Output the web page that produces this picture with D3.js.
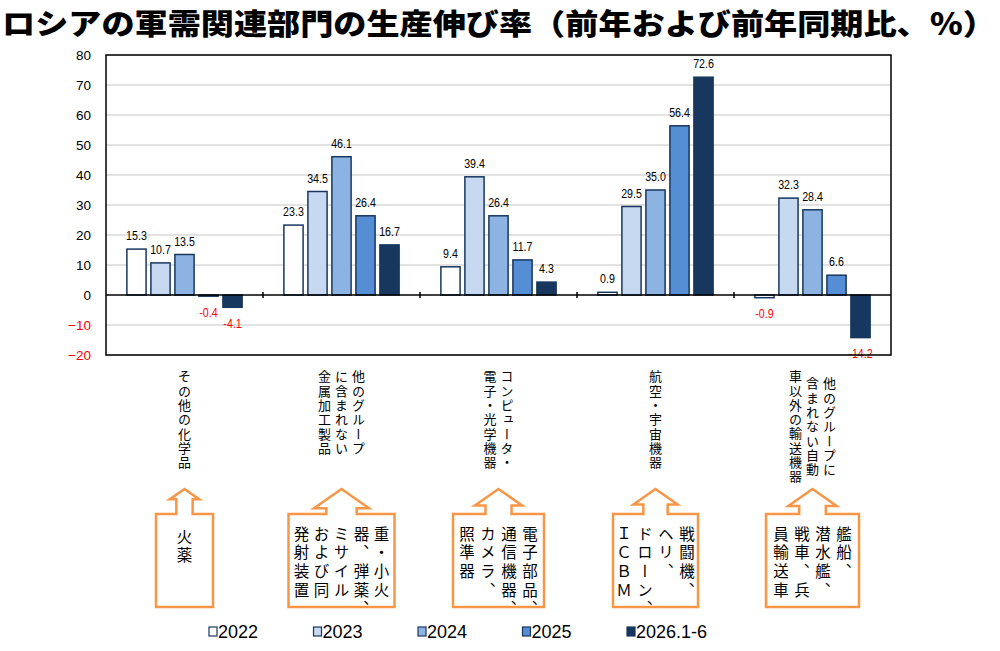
<!DOCTYPE html>
<html>
<head>
<meta charset="utf-8">
<script src="https://cdn.jsdelivr.net/npm/d3@7"></script>
<style>
    body { margin: 0; background: #fff; }
    svg { display: block; }
</style>
</head>
<body>
<div id="chart"></div>
<script>
// Data
const title = "ロシアの軍需関連部門の生産伸び率（前年および前年同期比、％）";
const categories = ["その他の化学品", "他のグループに含まれない金属加工製品", "コンピュータ・電子・光学機器", "航空・宇宙機器", "他のグループに含まれない自動車以外の輸送機器"];
// label columns (vertical text, read right to left)
const categoryLines = [
    ["その他の化学品"],
    ["他のグループ", "に含まれない", "金属加工製品"],
    ["コンピュータ・", "電子・光学機器"],
    ["航空・宇宙機器"],
    ["他のグループに", "含まれない自動", "車以外の輸送機器"]
];
const exampleLines = [
    ["火薬"],
    ["重・小火", "器、弾薬、", "ミサイル", "および同", "発射装置"],
    ["電子部品、", "通信機器、", "カメラ、", "照準器"],
    ["戦闘機、", "ヘリ、", "ドローン、", "ＩＣＢＭ"],
    ["艦船、", "潜水艦、", "戦車、兵", "員輸送車"]
];
const seriesNames = ["2022", "2023", "2024", "2025", "2026.1-6"];
const v2022 = [15.3, 23.3, 9.4, 0.9, -0.9];
const v2023 = [10.7, 34.5, 39.4, 29.5, 32.3];
const v2024 = [13.5, 46.1, 26.4, 35.0, 28.4];
const v2025 = [-0.4, 26.4, 11.7, 56.4, 6.6];
const v2026 = [-4.1, 16.7, 4.3, 72.6, -14.2];
const yTicks = [-20, -10, 0, 10, 20, 30, 40, 50, 60, 70, 80];

const seriesValues = [v2022, v2023, v2024, v2025, v2026];
const colors = ["#ffffff", "#c6d9f0", "#8db3e2", "#558ed5", "#17375e"];
const edge = "#17375e";
const orange = "#f79646";
const boxWidths = [57, 106, 91, 85, 93];

const width = 1000, height = 651;
const plot = { left: 106, right: 891, top: 55, bottom: 355 };
const latin = "'Liberation Sans', Arial, sans-serif";
const jp = "'Noto Sans CJK JP', 'Noto Sans CJK SC', sans-serif";

const svg = d3.select("#chart")
    .append("svg")
    .attr("width", width)
    .attr("height", height)
    .attr("viewBox", [0, 0, width, height]);

// Title
svg.append("text")
    .attr("x", 2)
    .attr("y", 35)
    .attr("textLength", 994)
    .attr("lengthAdjust", "spacingAndGlyphs")
    .style("font-family", jp)
    .style("font-weight", 900)
    .style("font-size", "29px")
    .style("fill", "#000")
    .text(title);

// Scales
const x0 = d3.scaleBand()
    .domain(d3.range(categories.length))
    .range([plot.left, plot.right])
    .paddingInner(0);

const x1 = d3.scaleBand()
    .domain(seriesNames)
    .range([0, x0.bandwidth()])
    .paddingInner(0.2)
    .paddingOuter(0.87);

const y = d3.scaleLinear()
    .domain([-20, 80])
    .range([plot.bottom, plot.top]);

// Gridlines
svg.append("g")
    .selectAll("line")
    .data(yTicks.filter(t => t !== 0))
    .join("line")
    .attr("x1", plot.left)
    .attr("x2", plot.right)
    .attr("y1", d => y(d))
    .attr("y2", d => y(d))
    .attr("stroke", "#d9d9d9")
    .attr("stroke-width", 1.5);

// Y axis labels
const yAxis = svg.append("g")
    .attr("transform", `translate(${plot.left},0)`)
    .call(d3.axisLeft(y).tickValues(yTicks).tickSize(0).tickPadding(15));
yAxis.select(".domain").remove();
yAxis.selectAll("text")
    .style("font-family", latin)
    .style("font-size", "13.5px")
    .style("fill", d => d < 0 ? "#ff0000" : "#000");

// Bars
const rows = [];
categories.forEach((c, i) => {
    seriesNames.forEach((s, j) => {
        rows.push({ cat: i, series: s, idx: j, value: seriesValues[j][i] });
    });
});

svg.append("g")
    .selectAll("rect")
    .data(rows)
    .join("rect")
    .attr("x", d => x0(d.cat) + x1(d.series))
    .attr("width", x1.bandwidth())
    .attr("y", d => y(Math.max(0, d.value)))
    .attr("height", d => Math.abs(y(d.value) - y(0)))
    .attr("fill", d => colors[d.idx])
    .attr("stroke", edge)
    .attr("stroke-width", 1.5);

// Value labels (narrowed, like Arial Narrow)
svg.append("g")
    .selectAll("text")
    .data(rows)
    .join("text")
    .attr("transform", d => {
        const lx = x0(d.cat) + x1(d.series) + x1.bandwidth() / 2;
        const ly = d.value >= 0 ? y(d.value) - 9 : y(d.value) + 20.5;
        return `translate(${lx},${ly}) scale(0.82,1)`;
    })
    .attr("text-anchor", "middle")
    .style("font-family", latin)
    .style("font-size", "13px")
    .style("fill", d => d.value < 0 ? "#ff0000" : "#000")
    .text(d => d.value.toFixed(1));

// Zero line + category ticks
svg.append("line")
    .attr("x1", plot.left).attr("x2", plot.right)
    .attr("y1", y(0)).attr("y2", y(0))
    .attr("stroke", "#000").attr("stroke-width", 1.5);

svg.append("g")
    .selectAll("line")
    .data(d3.range(1, categories.length))
    .join("line")
    .attr("x1", d => x0(d)).attr("x2", d => x0(d))
    .attr("y1", y(0) - 3).attr("y2", y(0) + 3)
    .attr("stroke", "#000").attr("stroke-width", 1.5);

// Plot frame
svg.append("rect")
    .attr("x", plot.left).attr("y", plot.top)
    .attr("width", plot.right - plot.left)
    .attr("height", plot.bottom - plot.top)
    .attr("fill", "none")
    .attr("stroke", "#000")
    .attr("stroke-width", 1.5);

// vertical text, one glyph per element so the pitch is exact
function verticalColumn(g, str, x, top, pitch, size) {
    Array.from(str).forEach((ch, k) => {
        g.append("text")
            .attr("x", x)
            .attr("y", top + k * pitch)
            .style("writing-mode", "vertical-rl")
            .style("font-family", jp)
            .style("font-size", size + "px")
            .style("fill", "#000")
            .text(ch);
    });
}

// Category labels
const catCx = i => x0(i) + x0.bandwidth() / 2;
const labels = svg.append("g");
const catPitch = 14.3;
categoryLines.forEach((cols, i) => {
    const n = cols.length;
    const centred = i === categories.length - 1;
    cols.forEach((col, k) => {
        const len = Array.from(col).length;
        const top = centred ? 427 - (len * catPitch) / 2 : 370;
        verticalColumn(labels, col, catCx(i) + ((n - 1) / 2 - k) * 17, top, catPitch, 13);
    });
});

// Orange arrow boxes with examples
const boxTop = 514, boxBottom = 607, tipY = 489;
const boxes = svg.append("g");
exampleLines.forEach((cols, i) => {
    const cx = catCx(i);
    const w = boxWidths[i];
    const l = cx - w / 2, r = cx + w / 2;
    const wing = w * 0.26;
    const stem = wing * 0.55;
    const base = tipY + wing * 0.7;
    const pts = [
        [l, boxBottom], [l, boxTop], [cx - stem, boxTop], [cx - stem, base],
        [cx - wing, base], [cx, tipY], [cx + wing, base], [cx + stem, base],
        [cx + stem, boxTop], [r, boxTop], [r, boxBottom]
    ];
    boxes.append("path")
        .attr("d", d3.line()(pts) + "Z")
        .attr("fill", "#fff")
        .attr("stroke", orange)
        .attr("stroke-width", 2.5)
        .attr("stroke-linejoin", "miter");

    const n = cols.length;
    const pitch = n === 5 ? 20 : 21;
    cols.forEach((col, k) => {
        verticalColumn(boxes, col, cx + ((n - 1) / 2 - k) * pitch, n === 1 ? 529 : 526, 18.7, 15.5);
    });
});

// Legend
const legend = svg.append("g")
    .selectAll("g")
    .data(seriesNames)
    .join("g")
    .attr("transform", (d, i) => `translate(${209 + i * 104.5},627)`);

legend.append("rect")
    .attr("width", 8).attr("height", 9)
    .attr("fill", (d, i) => colors[i])
    .attr("stroke", edge)
    .attr("stroke-width", 1.2);

legend.append("text")
    .attr("x", 9)
    .attr("y", 11)
    .style("font-family", latin)
    .style("font-size", "18px")
    .style("fill", "#000")
    .text(d => d);
</script>
</body>
</html>
